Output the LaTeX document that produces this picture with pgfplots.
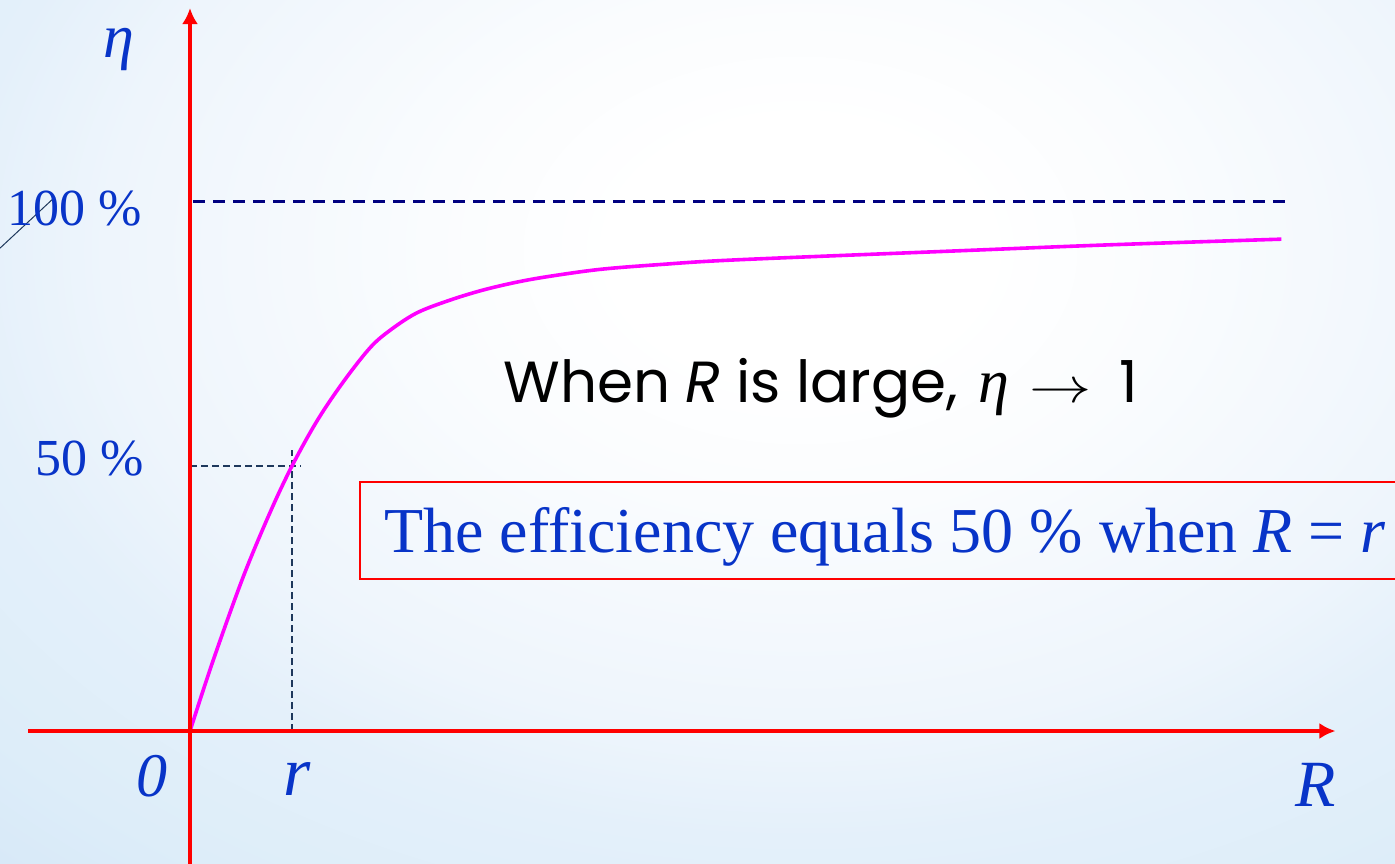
\documentclass[border=0pt]{standalone}
\usepackage{fontspec}
\setmainfont{Liberation Serif}
\newfontfamily\gothic{Poppins}
\usepackage{pgfplots}
\pgfplotsset{compat=1.18}
\usetikzlibrary{arrows.meta}

\definecolor{labelblue}{RGB}{8,52,200}
\definecolor{axisred}{RGB}{255,0,0}
\definecolor{curvemag}{RGB}{255,0,255}
\definecolor{asymnavy}{RGB}{0,0,128}
\definecolor{guide}{RGB}{30,56,92}

% slide background: white glow near the top, pale blue towards the lower left
% (the central 50bp square of a shading is fitted to the shaded path)
\pgfdeclareradialshading{slidebg}{\pgfpoint{0bp}{0bp}}{%
  color(0bp)=(white); color(3.5bp)=(white);
  color(7.15bp)=(rgb,255:red,250;green,252;blue,254);
  color(13.35bp)=(rgb,255:red,238;green,245;blue,252);
  color(16.15bp)=(rgb,255:red,228;green,240;blue,250);
  color(20.35bp)=(rgb,255:red,221;green,237;blue,249);
  color(22.8bp)=(rgb,255:red,216;green,233;blue,248);
  color(25bp)=(rgb,255:red,214;green,232;blue,248);
  color(50bp)=(rgb,255:red,214;green,232;blue,248)}

\begin{document}
\begin{tikzpicture}
\begin{axis}[
  scale only axis,
  width=697.5pt, height=431.5pt,
  xmin=-1.8627, xmax=11.8137,
  ymin=-24.906, ymax=137.925,
  hide axis,
  clip=false,
]
\coordinate (SW) at (rel axis cs:0,0);
\coordinate (NE) at (rel axis cs:1,1);
% background
\begin{scope}
  \clip (rel axis cs:0,0) rectangle (rel axis cs:1,1);
  \shade[shading=slidebg] (axis cs:-6.765,-80.95) rectangle (axis cs:18.725,262.45);
\end{scope}

% stray stroke at the left edge
\addplot[guide, line width=0.5pt] coordinates {(-1.863,91.1) (-1.324,100.75)};

% asymptote eta = 100 %
\addplot[asymnavy, line width=1.5pt, dash pattern=on 6pt off 4pt]
  coordinates {(0.03,100) (10.78,100)};

% guides to the 50 % point
\addplot[guide, line width=0.7pt, dash pattern=on 3.5pt off 2pt]
  coordinates {(0,50) (1.08,50)};
\addplot[guide, line width=0.7pt, dash pattern=on 3.5pt off 2pt]
  coordinates {(1,0) (1,53)};

% efficiency curve
\addplot[curvemag, line width=1.8pt, smooth, tension=0.55] coordinates {
  (0,0) (0.225,13.2) (0.52,29.0) (0.784,41.2) (1.0,50.0) (1.245,58.5)
  (1.5,65.8) (1.765,72.3) (1.961,75.6) (2.225,78.9) (2.549,81.3)
  (2.873,83.2) (3.206,84.7) (3.529,85.8) (4.02,87.1) (4.6,88.0)
  (5.36,88.9) (7.53,90.6) (8.97,91.7) (10.70,92.8)
};

% axes with arrows
\draw[axisred, line width=1.8pt, -{Latex[length=8pt,width=8pt]}]
  (axis cs:-1.588,0) -- (axis cs:11.23,0);
\draw[axisred, line width=1.8pt, -{Latex[length=8pt,width=8pt]}]
  (axis cs:0,-26) -- (axis cs:0,136.4);

% labels
\node[labelblue, anchor=base, font=\fontsize{31}{36}\selectfont\itshape]
  at (axis cs:-0.696,127.1) {η};
\node[labelblue, anchor=base east, inner sep=0pt, font=\fontsize{26}{30}\selectfont]
  at (axis cs:-0.47,95.3) {100 \%};
\node[labelblue, anchor=base east, inner sep=0pt, font=\fontsize{26}{30}\selectfont]
  at (axis cs:-0.451,48.3) {50 \%};
\node[labelblue, anchor=base east, inner sep=0pt, font=\fontsize{31}{36}\selectfont\itshape]
  at (axis cs:-0.216,-12.45) {0};
\node[labelblue, anchor=base, inner sep=0pt, font=\fontsize{35}{40}\selectfont\itshape]
  at (axis cs:1.049,-12.1) {r};
\node[labelblue, anchor=base, inner sep=0pt, font=\fontsize{33}{38}\selectfont\itshape]
  at (axis cs:11.04,-14.3) {R};

% statement
\node[black, anchor=base west, inner sep=0pt, font=\fontsize{29}{34}\selectfont\gothic]
  at (axis cs:3.069,61.9) {When \textit{R} is large,\hspace{10pt}{\rmfamily\itshape\fontsize{31}{34}\selectfont η}\hspace{10pt}\scalebox{1.25}[1]{$\rightarrow$}\hspace{14pt}1};

% boxed conclusion
\draw[axisred, line width=1pt]
  (axis cs:1.667,47.0) rectangle (axis cs:12.2,28.7);
\node[labelblue, anchor=base west, inner sep=0pt, font=\fontsize{32}{38}\selectfont]
  at (axis cs:1.90,33.6) {The efficiency equals 50 \% when \textit{R} = \textit{r}};
\end{axis}
\pgfresetboundingbox
\useasboundingbox (SW) rectangle (NE);
\end{tikzpicture}
\end{document}
